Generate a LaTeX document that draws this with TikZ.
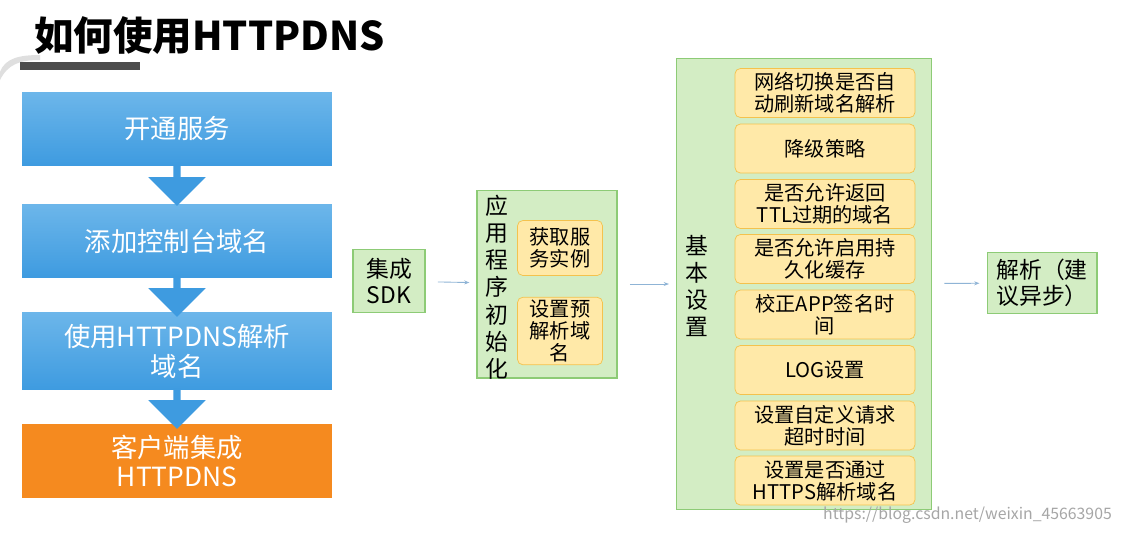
\documentclass[tikz,border=0pt]{standalone}
\usepackage{fontspec}
\setmainfont{Noto Sans CJK SC}
\usetikzlibrary{shapes.arrows,arrows.meta}
\definecolor{blu}{HTML}{3E9BE0}
\definecolor{blutop}{HTML}{6CB6EA}
\definecolor{org}{HTML}{F58A1F}
\definecolor{grf}{HTML}{D3EDC4}
\definecolor{grd}{HTML}{8DCB76}
\definecolor{yel}{HTML}{FFE9A8}
\definecolor{yeld}{HTML}{F4C24D}
\definecolor{arr}{HTML}{8FB4D6}
\tikzset{
 bluebox/.style={draw=none,top color=blutop,bottom color=blu,text=white,minimum width=6.2cm,minimum height=1.45cm,align=center,font=\fontsize{15}{17}\selectfont,inner sep=0},
 grbox/.style={draw=grd,fill=grf,line width=0.6pt,inner sep=0},
 ybox/.style={draw=yeld,fill=yel,rounded corners=3pt,align=center,font=\fontsize{11.5}{12.5}\selectfont,inner sep=0},
 downar/.style={single arrow,shape border rotate=270,fill=blu,minimum width=1.15cm,single arrow head extend=0.05cm,minimum height=0.8cm,inner sep=0},
 conn/.style={draw=arr,line width=0.5pt,shorten <=7pt,shorten >=4pt,-{Stealth[length=3pt]}},
 gtext/.style={font=\fontsize{13}{15}\selectfont,align=center}
}
\begin{document}
\begin{tikzpicture}[x=0.02cm,y=-0.02cm]
\useasboundingbox (0,0) rectangle (1121,532);
\fill[white] (0,0) rectangle (1121,532);
% title
\node[anchor=west,font=\fontsize{22.5}{25}\selectfont\bfseries] (title) at (28,36) {如何使用HTTPDNS};
\fill[gray!25] (0,72) .. controls (5,58) and (20,55) .. (40,55) -- (40,60) .. controls (20,60) and (8,64) .. (0,80) -- cycle;
\fill[black!70] (20,62) rectangle (140,70);
% left column
\node[bluebox] (b1) at (177,129) {开通服务};
\node[bluebox] (b2) at (177,241) {添加控制台域名};
\node[bluebox,minimum height=1.55cm] (b3) at (177,351) {使用HTTPDNS解析\\域名};
\node[bluebox,top color=org,bottom color=org,minimum height=1.45cm] (b4) at (177,461) {客户端集成\\HTTPDNS};
\node[downar] (a1) at (177,184) {};
\node[downar] (a2) at (177,295) {};
\node[downar] (a3) at (177,407) {};
% SDK
\node[grbox,minimum width=1.44cm,minimum height=1.26cm,gtext] (sdk) at (389,281) {集成\\SDK};
% init
\node[grbox,minimum width=2.8cm,minimum height=3.76cm] (init) at (547,284) {};
\node[gtext,text width=0.5cm,font=\fontsize{13}{15.5}\selectfont] (initt) at (497,287) {应\\用\\程\\序\\初\\始\\化};
\node[ybox,minimum width=1.7cm,minimum height=1.1cm] (i1) at (560,248) {获取服\\务实例};
\node[ybox,minimum width=1.7cm,minimum height=1.35cm] (i2) at (560,331) {设置预\\解析域\\名};
% basic
\node[grbox,minimum width=5.1cm,minimum height=9.04cm] (basic) at (804,284) {};
\node[gtext,text width=0.5cm,font=\fontsize{13}{15.5}\selectfont] (bt) at (697,286) {基\\本\\设\\置};
\foreach \y/\t [count=\i] in {93/{网络切换是否自\\动刷新域名解析},148.5/{降级策略},204/{是否允许返回\\TTL过期的域名},259/{是否允许启用持\\久化缓存},314.5/{校正APP签名时\\间},370/{LOG设置},425.5/{设置自定义请求\\超时时间},480.5/{设置是否通过\\HTTPS解析域名}}
  \node[ybox,minimum width=3.6cm,minimum height=0.98cm] (y\i) at (825,\y) {\t};
% result
\node[grbox,minimum width=2.2cm,minimum height=1.22cm,gtext] (res) at (1042,283) {解析（建\\议异步）};
% connectors
\draw[conn] (sdk) -- (init);
\draw[conn] (init) -- (basic);
\draw[conn] (basic) -- (res);
% watermark
\node[anchor=east,text=gray!70,font=\fontsize{9}{10}\selectfont] (wm) at (1118,515) {https://blog.csdn.net/weixin\_45663905};
\end{tikzpicture}
\end{document}
